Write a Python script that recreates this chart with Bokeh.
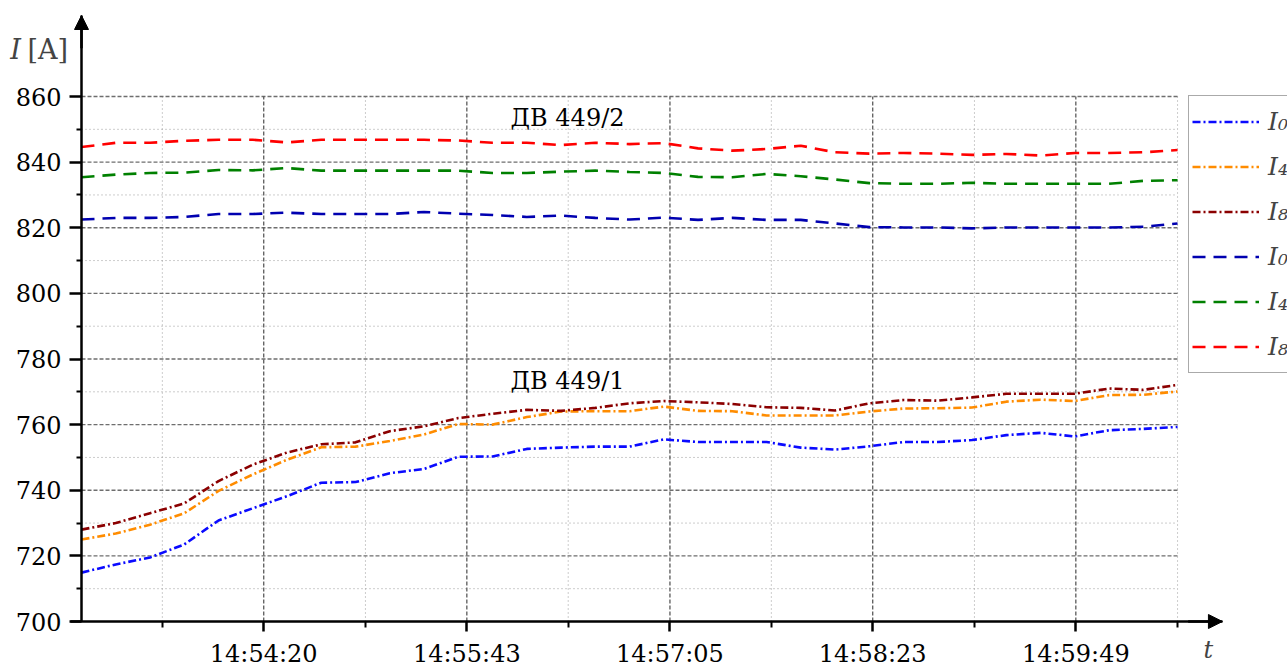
from bokeh.plotting import figure
from bokeh.models import (FixedTicker, Legend, LegendItem, Label, Arrow, NormalHead, Range1d)
from bokeh.embed import file_html
from bokeh.resources import INLINE
from bokeh.core.properties import value

# ---- data ----
sample = list(range(33))

i0_dv1 = [714.9, 717.4, 719.5, 723.5, 730.8, 734.5, 738.2, 742.3, 742.5, 745.2, 746.5,
          750.2, 750.3, 752.6, 753.0, 753.3, 753.3, 755.5, 754.7, 754.7, 754.7, 753.0,
          752.4, 753.4, 754.7, 754.7, 755.3, 756.8, 757.5, 756.4, 758.3, 758.7, 759.3]
i4_dv1 = [725.0, 726.8, 729.5, 733.0, 739.8, 744.8, 749.3, 753.1, 753.3, 755.0, 757.0,
          760.2, 760.0, 762.3, 764.0, 764.1, 764.1, 765.5, 764.2, 764.1, 762.8, 762.8,
          762.8, 764.0, 764.9, 765.0, 765.2, 767.0, 767.6, 767.2, 769.0, 769.1, 770.1]
i8_dv1 = [728.0, 730.0, 733.0, 736.0, 742.8, 747.8, 751.5, 754.0, 754.6, 758.0, 759.5,
          762.0, 763.3, 764.5, 764.2, 765.1, 766.5, 767.2, 766.8, 766.3, 765.3, 765.1,
          764.3, 766.5, 767.5, 767.3, 768.3, 769.4, 769.4, 769.4, 771.0, 770.6, 772.1]
i0_dv2 = [822.5, 823.0, 823.0, 823.3, 824.2, 824.2, 824.6, 824.2, 824.2, 824.2, 824.8,
          824.3, 823.9, 823.3, 823.7, 823.0, 822.5, 823.1, 822.4, 823.0, 822.4, 822.4,
          821.3, 820.2, 820.1, 820.1, 819.8, 820.1, 820.1, 820.1, 820.1, 820.3, 821.3]
i4_dv2 = [835.4, 836.2, 836.7, 836.8, 837.6, 837.5, 838.2, 837.4, 837.4, 837.4, 837.4,
          837.4, 836.7, 836.7, 837.1, 837.4, 837.0, 836.7, 835.5, 835.4, 836.4, 835.7,
          834.7, 833.6, 833.4, 833.4, 833.7, 833.4, 833.4, 833.4, 833.4, 834.3, 834.5]
i8_dv2 = [844.6, 845.9, 845.9, 846.5, 846.8, 846.8, 846.0, 846.8, 846.8, 846.8, 846.8,
          846.6, 845.9, 845.9, 845.2, 845.9, 845.5, 845.8, 844.2, 843.5, 844.0, 845.0,
          843.0, 842.6, 842.8, 842.6, 842.2, 842.5, 842.0, 842.8, 842.8, 843.0, 843.7]

series_labels = ["I₀", "I₄", "I₈", "I₀", "I₄", "I₈"]
group_labels = ["ДВ 449/2", "ДВ 449/1"]
group_label_x = [14.19, 14.19]
group_label_y = [853.3, 773.4]

time_labels = ["14:54:20", "14:55:43", "14:57:05", "14:58:23", "14:59:49"]
x_major = [5.32, 11.25, 17.18, 23.10, 29.03]
x_minor = [2.36, 8.29, 14.21, 20.14, 26.07, 32.0]
y_major = [700, 720, 740, 760, 780, 800, 820, 840, 860]
y_minor = [710, 730, 750, 770, 790, 810, 830, 850]

FONT = "DejaVu Serif"
# frame covers the whole canvas; axes are placed at fixed locations
X_START, X_END = -2.365, 35.21
Y_START, Y_END = 685.68, 889.26
X_TIP = 33.31
Y_TIP = 884.69

p = figure(width=1287, height=668, x_range=Range1d(X_START, X_END),
           y_range=Range1d(Y_START, Y_END),
           output_backend="svg", toolbar_location=None, min_border=0)
p.outline_line_color = None
p.xgrid.visible = False
p.ygrid.visible = False
p.background_fill_color = "white"
p.border_fill_color = "white"

# ---- grid drawn within data region ----
x0, x1 = sample[0], sample[-1]
y0, y1 = y_major[0], y_major[-1]
p.multi_line(xs=[[x0, x1] for _ in y_minor], ys=[[y, y] for y in y_minor],
             line_color="#9a9a9a", line_width=1, line_dash="1 3")
p.multi_line(xs=[[x, x] for x in x_minor], ys=[[y0, y1] for _ in x_minor],
             line_color="#9a9a9a", line_width=1, line_dash="1 3")
p.multi_line(xs=[[x0, x1] for _ in y_major[1:]], ys=[[y, y] for y in y_major[1:]],
             line_color="#6e6e6e", line_width=1.3, line_dash="4 2")
p.multi_line(xs=[[x, x] for x in x_major], ys=[[y0, y1] for _ in x_major],
             line_color="#5a5a5a", line_width=1.3, line_dash="4 2")

# ---- series ----
DD = "8 3 2 3"
DA = "13 8"
specs = [
    (i0_dv1, "#0a0aff", DD),
    (i4_dv1, "#ff8c00", DD),
    (i8_dv1, "#8b0000", DD),
    (i0_dv2, "#0000b0", DA),
    (i4_dv2, "#008000", DA),
    (i8_dv2, "#ff0000", DA),
]
items = []
for (vals, col, dash), lab in zip(specs, series_labels):
    r = p.line(sample, vals, line_color=col, line_width=2.6, line_dash=dash)
    items.append(LegendItem(label=lab, renderers=[r]))

p.text(x=group_label_x, y=group_label_y, text=group_labels, text_align="center",
       text_baseline="middle", text_font=value(FONT), text_font_size="24px", text_color="black")

legend = Legend(items=items, location=(1188, 295), orientation="vertical",
                glyph_width=67, glyph_height=45, label_height=45, spacing=0, padding=3,
                margin=0, label_standoff=9, label_text_font=FONT, label_text_font_size="25px",
                label_text_font_style="italic", border_line_color="#555555", border_line_width=1.5,
                background_fill_color="white", background_fill_alpha=1.0)
p.add_layout(legend, "center")

# ---- axes ----
xa = p.xaxis[0]
xa.ticker = FixedTicker(ticks=x_major, minor_ticks=x_minor)
xa.major_label_overrides = {t: s for t, s in zip(x_major, time_labels)}
xa.fixed_location = 700
xa.bounds = (-0.32, X_TIP)
ya = p.yaxis[0]
ya.ticker = FixedTicker(ticks=y_major, minor_ticks=y_minor)
ya.fixed_location = 0
ya.bounds = (700, Y_TIP)
for ax, tout, mout in ((xa, 10, 6), (ya, 12, 5)):
    ax.axis_line_color = "black"
    ax.axis_line_width = 2.5
    ax.major_tick_in = 0
    ax.major_tick_out = tout
    ax.minor_tick_in = 0
    ax.minor_tick_out = mout
    ax.major_tick_line_width = 2.5
    ax.minor_tick_line_width = 2
    ax.major_tick_line_color = "black"
    ax.minor_tick_line_color = "black"
    ax.major_label_text_font = FONT
    ax.major_label_text_font_size = "24px"
    ax.major_label_text_color = "black"
    ax.major_label_standoff = 8

# arrow heads
p.add_layout(Arrow(end=NormalHead(size=14, fill_color="black", line_color="black"),
                   x_start=0, y_start=Y_TIP - 10, x_end=0, y_end=Y_TIP,
                   line_color="black", line_width=2.5))
p.add_layout(Arrow(end=NormalHead(size=14, fill_color="black", line_color="black"),
                   x_start=X_TIP - 1, y_start=700, x_end=X_TIP, y_end=700,
                   line_color="black", line_width=2.5))

# axis titles
p.add_layout(Label(x=-2.08, y=874.3, text="I", text_font=FONT, text_font_size="27px",
                   text_font_style="italic", text_baseline="middle", text_align="left"))
p.add_layout(Label(x=-1.58, y=874.3, text="[A]", text_font=FONT, text_font_size="27px",
                   text_baseline="middle", text_align="left"))
p.add_layout(Label(x=32.76, y=691.2, text="t", text_font=FONT, text_font_size="24px",
                   text_font_style="italic", text_baseline="middle", text_align="left"))

open("out.html", "w").write(file_html(p, INLINE))
